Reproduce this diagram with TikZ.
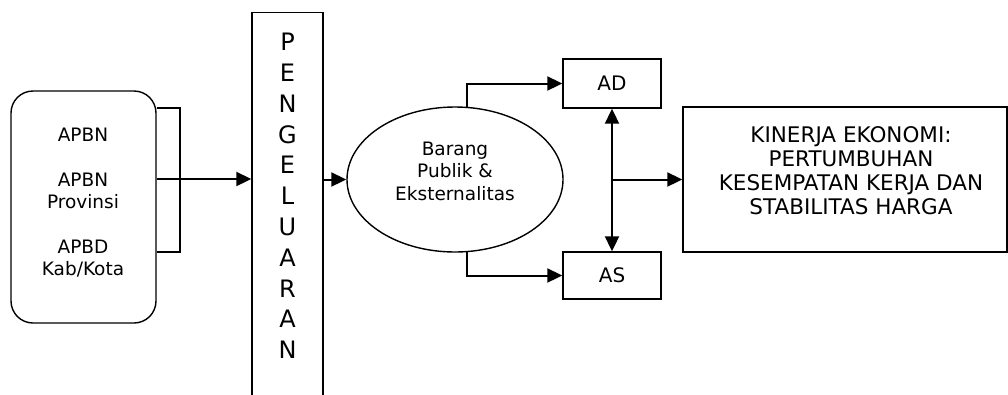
\documentclass[tikz,border=0pt]{standalone}
\usepackage{fontspec}
\setmainfont{DejaVu Sans}
\usetikzlibrary{arrows.meta,shapes.geometric}
\begin{document}
\begin{tikzpicture}[x=1pt,y=-1pt,
  box/.style={draw,line width=1.4pt,inner sep=0pt},
  txt/.style={font=\fontsize{18.5}{22.5}\selectfont,align=center,inner sep=0pt},
  letter/.style={font=\fontsize{24}{24}\selectfont,inner sep=0pt,text height=17.5pt,text depth=0pt},
  conn/.style={line width=2pt},
  arr/.style={line width=2pt,-{Triangle[length=15pt,width=14pt]}},
  darr/.style={line width=2pt,{Triangle[length=15pt,width=14pt]}-{Triangle[length=15pt,width=14pt]}}]
\useasboundingbox (0,0) rectangle (1008,394);
\clip (0,0) rectangle (1008,394);
% left source box
\node[box,rounded corners=22pt,minimum width=145pt,minimum height=232pt] (src) at (83.5,207) {};
\node[txt] (apbn) at (83,135) {APBN};
\node[txt] (apbnp) at (83,191) {APBN\\Provinsi};
\node[txt] (apbd) at (83,258.5) {APBD\\Kab/Kota};
% bracket
\coordinate (b1) at (src.east |- 0,108);
\coordinate (b3) at (src.east |- 0,252);
\coordinate (b2) at (src.east |- 0,179);
\draw[line width=1.4pt] (b1) -| (180,252) -- (b3);
% pengeluaran
\node[box,minimum width=71pt,minimum height=400pt,anchor=north] (peng) at (287.5,12) {};
\foreach \l [count=\i] in {P,E,N,G,E,L,U,A,R,A,N}
  \node[letter] (l\i) at (287.5,{42+(\i-1)*30.8}) {\l};
\draw[arr] (b2) -- (b2 -| peng.west);
% ellipse
\node[draw,line width=1.4pt,ellipse,minimum width=216pt,minimum height=145pt,inner sep=0pt] (ell) at (455,179.5) {};
\node[txt] (elltxt) at (455,171) {Barang\\Publik \&\\Eksternalitas};
\draw[arr] (peng.east |- ell.west) -- (ell.west);
% AD AS
\node[box,minimum width=98pt,minimum height=49pt,font=\fontsize{20}{22}\selectfont] (ad) at (612,83.5) {AD};
\node[box,minimum width=98pt,minimum height=47pt,font=\fontsize{20}{22}\selectfont] (as) at (612,275.5) {AS};
\coordinate (et) at (467,0 |- ell.north);
\coordinate (eb) at (467,0 |- ell.south);
\draw[arr] (467,108) |- (ad.west);
\draw[arr] (467,251) |- (as.west);
\draw[darr] (ad.south) -- (as.north);
% kinerja
\node[box,minimum width=324pt,minimum height=145pt] (kin) at (845,179.5) {};
\node[txt,font=\fontsize{21.5}{24}\selectfont] (kintxt) at (851,171) {KINERJA EKONOMI:\\PERTUMBUHAN\\KESEMPATAN KERJA DAN\\STABILITAS HARGA};
\coordinate (mid) at (ad.south |- kin.west);
\draw[arr] (mid) -- (kin.west);
\end{tikzpicture}
\end{document}
